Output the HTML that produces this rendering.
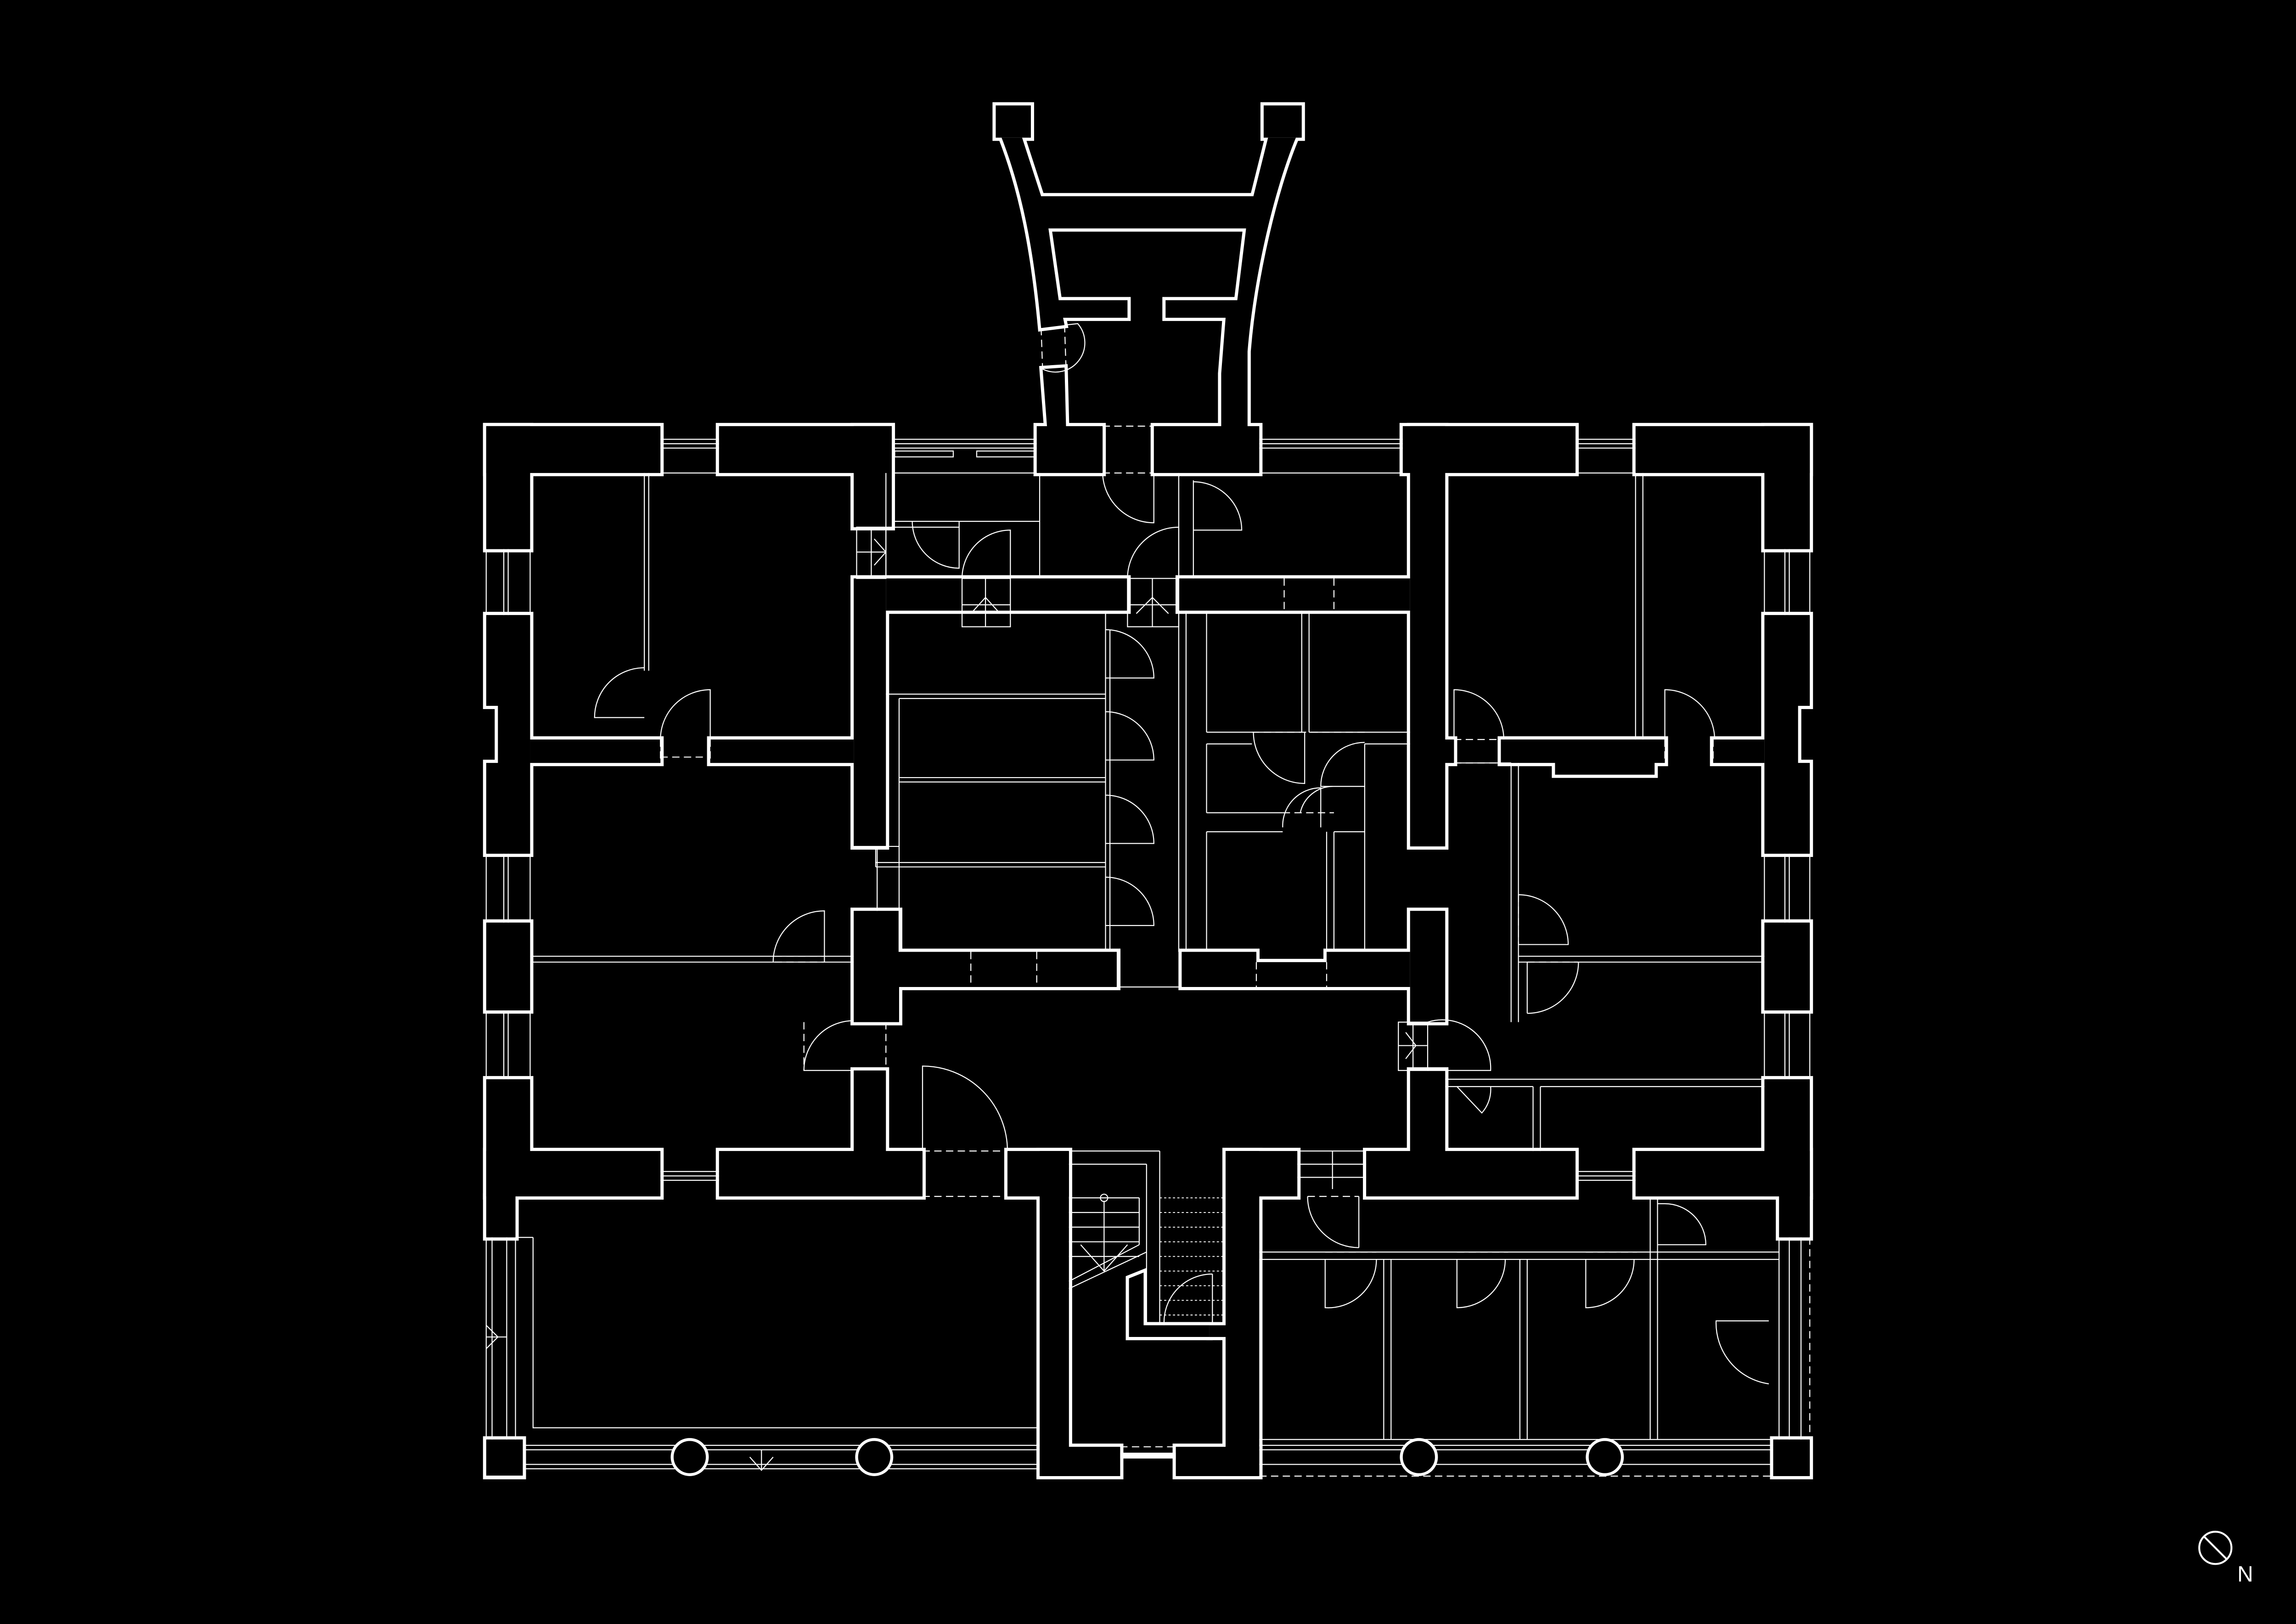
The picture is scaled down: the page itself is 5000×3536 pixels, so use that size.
<!DOCTYPE html>
<html><head><meta charset="utf-8"><style>
html,body{margin:0;padding:0;background:#000;}
svg{display:block;}
</style></head><body>
<svg width="5000" height="3536" viewBox="0 0 1568 1109" xmlns="http://www.w3.org/2000/svg">
<rect x="0" y="0" width="1568" height="1109" fill="#000"/>
<defs>
<g id="walls">
  <rect x="680" y="72" width="24" height="22"/>
  <rect x="863" y="72" width="26" height="22"/>
  <path d="M684,94 L698,94 L711,134 L856,134 L866,94 L885,94 C870,130 856,190 852,240 L852,291 L860,291 L860,323 L788,323 L788,291 L834,291 L834,255 L837,217 L796,217 L796,205 L845,205 L851,156 L716,156 L723,205 L770,205 L770,217 L726,217 L727,222 L711,224 C706,170 698,130 684,94 Z"/>
  <path d="M712,252 L727,251 L728,291 L753,291 L753,323 L708,323 L708,291 L715,291 Z"/>
  <rect x="332" y="291" width="119" height="32"/>
  <rect x="332" y="291" width="30" height="84"/>
  <rect x="491" y="291" width="118" height="32"/>
  <rect x="583" y="291" width="26" height="69"/>
  <path d="M332,420 L362,420 L362,583 L332,583 L332,521 L340,521 L340,482 L332,482 Z"/>
  <rect x="362" y="505" width="89" height="16"/>
  <rect x="485" y="505" width="98" height="16"/>
  <rect x="583" y="395" width="22" height="183"/>
  <rect x="605" y="395" width="165" height="22"/>
  <rect x="332" y="630" width="30" height="60"/>
  <rect x="332" y="737" width="30" height="80"/>
  <rect x="332" y="786" width="119" height="31"/>
  <rect x="332" y="817" width="20" height="28"/>
  <rect x="491" y="786" width="139" height="31"/>
  <rect x="583" y="731" width="22" height="86"/>
  <rect x="583" y="622" width="31" height="76"/>
  <rect x="605" y="650" width="158" height="24"/>
  <rect x="332" y="983" width="25" height="25"/>
  <rect x="688" y="786" width="42" height="31"/>
  <rect x="710" y="786" width="20" height="222"/>
  <rect x="710" y="988" width="55" height="20"/>
  <rect x="803" y="988" width="57" height="20"/>
  <rect x="837" y="786" width="23" height="222"/>
  <rect x="837" y="786" width="49" height="31"/>
  <path d="M771,873 L781,869 L781,905 L826,905 L826,913 L771,913 Z"/>
  <rect x="826" y="905" width="11" height="8"/>
  <rect x="805" y="395" width="158" height="22"/>
  <path d="M807,650 L858,650 L858,657 L906,657 L906,650 L963,650 L963,674 L807,674 Z"/>
  <rect x="958" y="291" width="118" height="32"/>
  <rect x="963" y="291" width="24" height="287"/>
  <rect x="985" y="505" width="8" height="16"/>
  <rect x="1117" y="291" width="119" height="32"/>
  <rect x="1205" y="291" width="31" height="84"/>
  <path d="M1205,420 L1236,420 L1236,482 L1228,482 L1228,521 L1236,521 L1236,583 L1205,583 Z"/>
  <path d="M1025,505 L1137,505 L1137,521 L1130,521 L1130,529 L1062,529 L1062,521 L1025,521 Z"/>
  <rect x="1170" y="505" width="35" height="16"/>
  <rect x="1205" y="630" width="31" height="60"/>
  <rect x="963" y="622" width="24" height="76"/>
  <rect x="963" y="731" width="24" height="86"/>
  <rect x="933" y="786" width="143" height="31"/>
  <rect x="1117" y="786" width="119" height="31"/>
  <rect x="1205" y="737" width="31" height="80"/>
  <rect x="1215" y="817" width="21" height="28"/>
  <rect x="1211" y="983" width="25" height="25"/>
</g>
</defs>
<use href="#walls" fill="#fff" stroke="#fff" stroke-width="4.4" stroke-linejoin="miter"/>
<use href="#walls" fill="#000" stroke="none"/>

<g stroke="#fff" stroke-width="0.7" fill="none">
  <path d="M451,300 H491 M451,303 H491 M451,306 H491 M451,323 H491"/>
  <path d="M609,300 H708 M609,303 H708 M609,306 H708 M609,323 H708"/>
  <rect x="611" y="308" width="40" height="4"/><rect x="667" y="308" width="40" height="4"/>
  <path d="M860,300 H958 M860,303 H958 M860,306 H958 M860,323 H958"/>
  <path d="M1076,300 H1117 M1076,303 H1117 M1076,306 H1117 M1076,323 H1117"/>
  <path d="M451,800 H491 M451,803 H491 M451,806 H491"/>
  <path d="M1076,800 H1117 M1076,803 H1117 M1076,806 H1117"/>
  <path d="M344,375 V420 M347,375 V420 M362,375 V420 M332,375 V420"/>
  <path d="M344,583 V630 M347,583 V630 M362,583 V630 M332,583 V630"/>
  <path d="M344,690 V737 M347,690 V737 M362,690 V737 M332,690 V737"/>
  <path d="M1219,375 V420 M1222,375 V420 M1205,375 V420 M1236,375 V420"/>
  <path d="M1219,583 V630 M1222,583 V630 M1205,583 V630 M1236,583 V630"/>
  <path d="M1219,690 V737 M1222,690 V737 M1205,690 V737 M1236,690 V737"/>
  <path d="M440,323 V458 M443,323 V458"/>
  <path d="M362,653 H583 M362,657 H583"/>
  <path d="M583,578 H614 M599,578 V622"/>
  <path d="M332,845 V983 M336,845 V983 M346,845 V983 M352,845 V983"/>
  <path d="M364,845 V975 H710 M352,845 H364"/>
  <path d="M357,987 H710 M357,990 H710 M357,1000 H710 M357,1003 H710 M332,1008 H357"/>
  <path d="M332,905 L340,913 L332,921 M332,913 H346"/>
  <path d="M512,995 L520,1004 L528,995 M520,990 V1004"/>
  <path d="M605,474 H755 M614,477 H755 M614,531 H755 M614,534 H755 M598,589 H755 M598,592 H755 M614,477 V650 M598,578 V592 M755,417 V650 M758,430 V650"/>
  <path d="M763,650 V674 M763,674 H807"/>
  <path d="M605,323 V395 M609,356 H710 M710,323 V395 M605,360 H655"/>
  <rect x="657" y="395" width="33" height="33"/>
  <path d="M673,395 V428 M657,413 H690 M663,419 L673,408 L683,419"/>
  <rect x="770" y="395" width="35" height="33"/>
  <path d="M787,395 V428 M770,413 H805 M776,419 L787,408 L798,419"/>
  <rect x="585" y="360" width="20" height="35"/>
  <path d="M585,377 H605 M595,360 V395 M597,368 L605,377 L597,386"/>
  <path d="M805,323 V395 M815,328 V395 M805,417 V650 M810,417 V650"/>
  <path d="M824,417 V500 M824,500 H889 M889,417 V500 M894,417 V500 M894,500 H963 M824,508 V555 M824,508 H855 M932,508 H963 M932,508 V555 M824,568 V650 M824,568 H876 M906,568 V650 M911,568 V650 M911,568 H932 M932,555 V650 M824,555 H876"/>
  <path d="M1117,323 V505 M1122,323 V505"/>
  <path d="M993,521 H1032 M1032,521 V698 M1037,521 V698"/>
  <path d="M1037,653 H1205 M1037,657 H1205"/>
  <path d="M987,737 H1205 M987,742 H1047 M1047,742 V786 M1052,742 V786 M1052,742 H1205"/>
  <rect x="955" y="698" width="20" height="33"/>
  <path d="M965,698 V731 M955,714 H975 M960,705 L967,714 L960,723"/>
  <path d="M730,786 H792 M792,786 V905 M783,795 V905 M730,795 H783"/>
  <path d="M730,818 H778 M730,828 H778 M730,838 H778 M730,848 H778 M730,858 H778 M778,818 V850"/>
  <circle cx="754" cy="818" r="2.5"/>
  <path d="M754,820 V868 M738,850 L754,868 L770,850 M730,875 L778,850 M730,880 L783,855"/>
  <path d="M792,818 H837 M792,828 H837 M792,838 H837 M792,848 H837 M792,858 H837 M792,868 H837 M792,878 H837 M792,888 H837 M792,898 H837" stroke-dasharray="1.5 1.5" stroke-width="0.6"/>
  <path d="M886,786 H933 M886,795 H933 M886,804 H933 M910,786 V812"/>
  <path d="M860,855 H1215 M860,860 H1215 M945,860 V983 M950,860 V983 M1038,860 V983 M1043,860 V983 M1127,817 V983 M1132,817 V983 M860,983 H1211"/>
  <path d="M1215,845 V983 M1222,845 V983 M1230,845 V983"/>
  <path d="M860,987 H1211 M860,990 H1211 M860,1000 H1211"/>
  <path d="M860,1008 H1211 M1236,845 V983" stroke-dasharray="5 3"/>
  <g stroke-dasharray="5 3">
    <path d="M451,505 V521 M485,505 V521 M451,517 H485"/>
    <path d="M630,786 H688 M630,817 H688"/>
    <path d="M753,291 H788 M753,323 H788"/>
    <path d="M711,224 L712,252 M727,222 L728,251"/>
    <path d="M529,653 H563 M529,657 H563 M549,698 V731 M605,698 V731"/>
    <path d="M663,650 V674 M708,650 V674 M858,657 V674 M906,657 V674"/>
    <path d="M993,505 H1025 M993,521 H1025 M1137,505 V521 M1170,505 V521"/>
    <path d="M877,395 V417 M911,395 V417"/>
    <path d="M855,500 H932 M876,555 H911"/>
    <path d="M1037,611 V645 M1043,657 H1078"/>
    <path d="M893,817 H928 M905,855 H940 M995,855 H1030 M1083,855 H1118"/>
    <path d="M765,988 H803"/>
  </g>
  <path d="M440,490 L406,490 A34,34 0 0 1 440,456"/>
  <path d="M485,505 L485,471 A34,34 0 0 0 451,505"/>
  <path d="M563,657 L563,622 A35,35 0 0 0 528,657"/>
  <path d="M583,731 L549,731 A34,34 0 0 1 583,697"/>
  <path d="M630,786 L630,728 A58,58 0 0 1 688,786"/>
  <path d="M788,323 L788,357 A35,35 0 0 1 753,323"/>
  <path d="M805,395 L805,360 A35,35 0 0 0 770,395"/>
  <path d="M815,362 L848,362 A33,33 0 0 0 815,329"/>
  <path d="M690,395 L690,362 A33,33 0 0 0 657,395"/>
  <path d="M655,356 L655,388 A32,32 0 0 1 623,356"/>
  <path d="M727,222 L736,221 A20,20 0 0 1 712,252"/>
  <path d="M755,430 A33,33 0 0 1 788,463 L755,463"/>
  <path d="M755,486 A33,33 0 0 1 788,519 L755,519"/>
  <path d="M755,543 A33,33 0 0 1 788,576 L755,576"/>
  <path d="M755,599 A33,33 0 0 1 788,632 L755,632"/>
  <path d="M856,500 A35,35 0 0 0 891,535 L891,500"/>
  <path d="M932,507 A30,30 0 0 0 902,537 L932,537"/>
  <path d="M876,565 A26,26 0 0 1 902,538 L902,565"/>
  <path d="M910,537 A23,23 0 0 0 888,555"/>
  <path d="M993,505 L993,471 A34,34 0 0 1 1027,505"/>
  <path d="M1137,505 L1137,471 A34,34 0 0 1 1171,505"/>
  <path d="M1037,611 A34,34 0 0 1 1071,645 L1037,645"/>
  <path d="M1043,692 A35,35 0 0 0 1078,657 M1043,657 V692"/>
  <path d="M975,698 A33,33 0 0 1 1018,731 L975,731"/>
  <path d="M995,742 L1012,760 A24,24 0 0 0 1018,742"/>
  <path d="M928,852 L928,817 M928,852 A35,35 0 0 1 893,817"/>
  <path d="M905,860 L905,893 A33,33 0 0 0 940,860"/>
  <path d="M995,860 L995,893 A33,33 0 0 0 1028,860"/>
  <path d="M1083,860 L1083,893 A33,33 0 0 0 1116,860"/>
  <path d="M1132,822 H1137 A28,28 0 0 1 1165,850 L1132,850"/>
  <path d="M1208,902 L1172,902 A42,42 0 0 0 1208,945"/>
  <path d="M828,870 L828,905 M828,870 A33,33 0 0 0 795,905"/>
</g>
<rect x="765" y="992" width="38" height="4" fill="#fff"/>
<g stroke="#fff" stroke-width="2" fill="#000">
  <circle cx="471" cy="995" r="12"/>
  <circle cx="597" cy="995" r="12"/>
  <circle cx="969" cy="995" r="12"/>
  <circle cx="1096" cy="995" r="12"/>
</g>
<g stroke="#fff" stroke-width="1.3" fill="none">
  <circle cx="1513" cy="1057" r="11"/>
  <path d="M1505,1049 L1521,1065"/>
</g>
<text x="1528" y="1080" fill="#fff" font-family="Liberation Sans, sans-serif" font-size="15">N</text>
</svg>
</body></html>
